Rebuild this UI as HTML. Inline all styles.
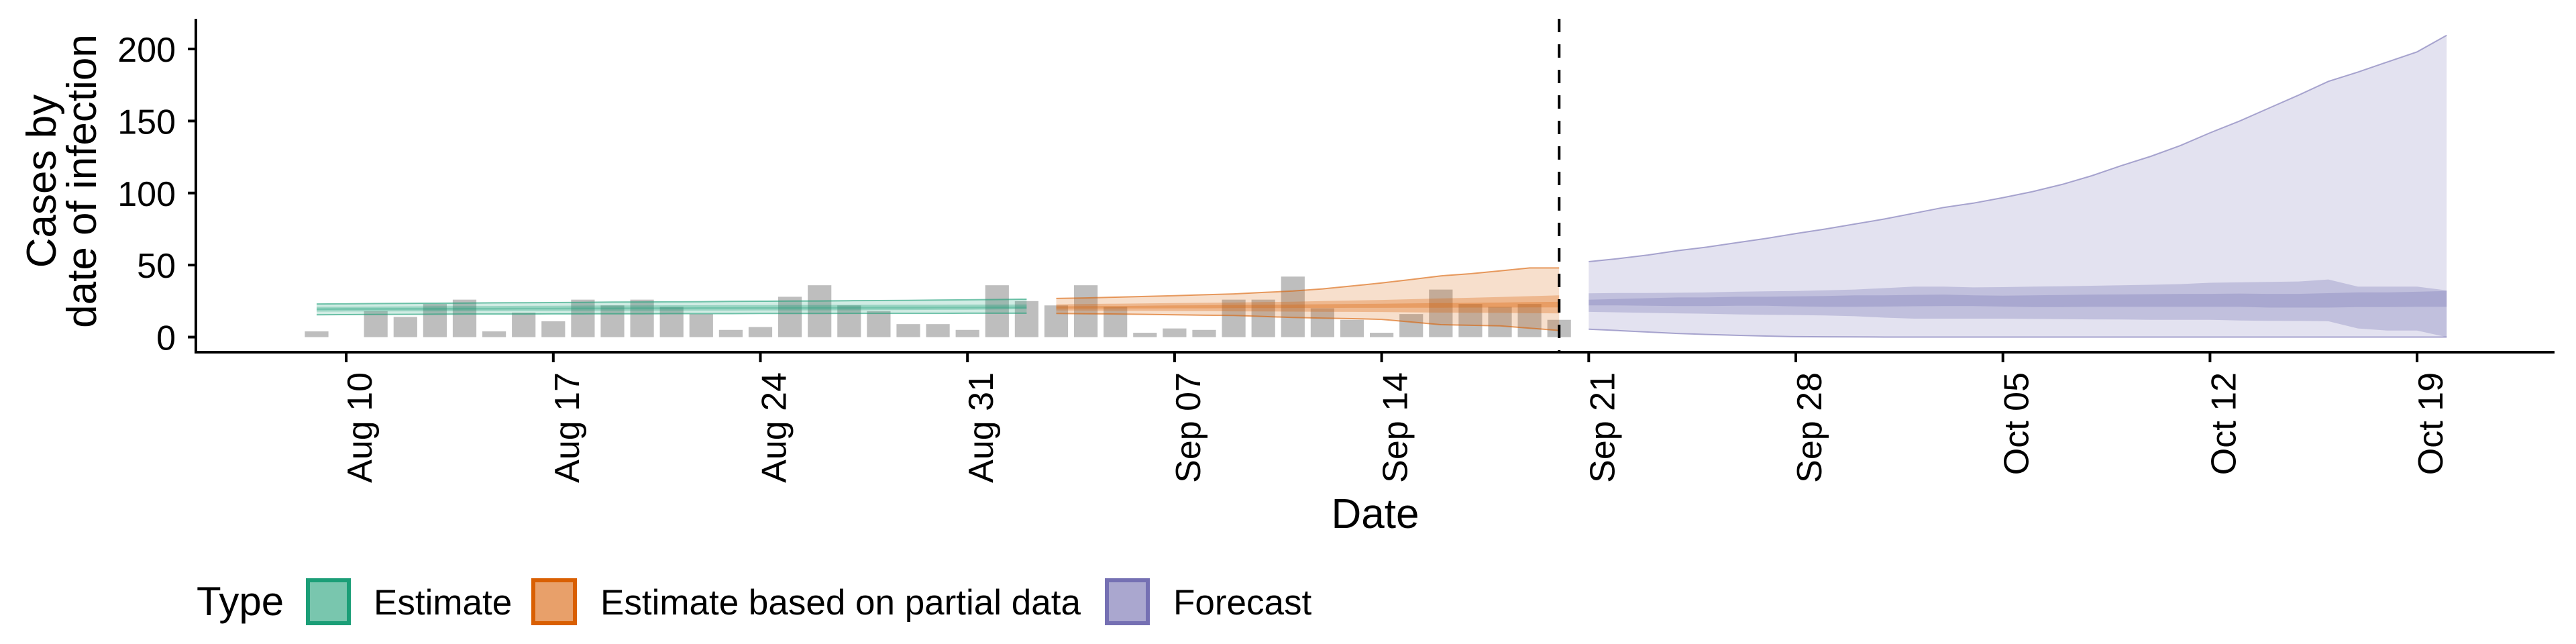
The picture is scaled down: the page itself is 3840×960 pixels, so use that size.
<!DOCTYPE html>
<html><head><meta charset="utf-8"><style>
html,body{margin:0;padding:0;background:#fff;}
svg{display:block;font-family:"Liberation Sans",Arial,sans-serif;}
</style></head><body>
<svg id="chart" width="3840" height="960" viewBox="0 0 3840 960" xmlns="http://www.w3.org/2000/svg">
<g id="bars"></g>
<g id="ribbons"></g>
<g id="axes"></g>
<text transform="translate(83,270) rotate(-90)" text-anchor="middle" font-size="62">Cases by</text>
<text transform="translate(143,270) rotate(-90)" text-anchor="middle" font-size="62">date of infection</text>
<text x="2050" y="787" text-anchor="middle" font-size="62">Date</text>
<g>
<text x="293" y="917" font-size="60">Type</text>
<g>
<rect x="459" y="865" width="61" height="64" fill="#79c6ae" stroke="#1b9e77" stroke-width="6"/>
<text x="557" y="916" font-size="53">Estimate</text></g>
<g>
<rect x="795" y="865" width="62" height="64" fill="#e8a06a" stroke="#d95f02" stroke-width="6"/>
<text x="895" y="916" font-size="53">Estimate based on partial data</text></g>
<g>
<rect x="1650" y="865" width="61" height="64" fill="#aaa7cf" stroke="#7570b3" stroke-width="6"/>
<text x="1749" y="916" font-size="53">Forecast</text></g>
</g>
</svg>
<script>
// ---- data ----
const barStartDay = 0; // Aug 9
const caseCounts = [4,0,18,14,23,26,4,17,11,26,22,26,21,16,5,7,28,36,22,18,9,9,5,36,25,22,36,21,3,6,5,26,26,42,20,12,3,16,33,23,21,23,12];
const estStartDay = 0; // Aug 9 .. Sep 2
const estLo90 = [15.5,15.6,15.7,15.8,15.9,16,16,16,16.1,16.1,16.2,16.2,16.3,16.3,16.3,16.4,16.4,16.4,16.5,16.5,16.5,16.5,16.6,16.6,16.6];
const estHi90 = [23,23.1,23.3,23.4,23.5,23.6,23.8,23.9,24,24.1,24.3,24.4,24.5,24.6,24.8,24.9,25,25.1,25.3,25.4,25.5,25.7,25.9,26.1,26.3];
const estLo50 = [17.7,17.8,17.8,17.9,17.9,18,18,18.1,18.1,18.2,18.2,18.3,18.3,18.4,18.4,18.5,18.5,18.6,18.6,18.7,18.8,18.9,19,19.2,19.4];
const estHi50 = [21,21.1,21.2,21.3,21.4,21.5,21.6,21.7,21.8,21.9,22,22,22.1,22.1,22.2,22.2,22.3,22.3,22.4,22.4,22.5,22.5,22.6,22.6,22.7];
const estLo20 = [18.8,18.9,18.9,19,19,19.1,19.1,19.2,19.2,19.3,19.3,19.4,19.4,19.5,19.5,19.6,19.6,19.7,19.7,19.8,19.8,19.9,19.9,20,20];
const estHi20 = [20,20.1,20.1,20.2,20.2,20.3,20.3,20.4,20.4,20.5,20.5,20.6,20.6,20.7,20.7,20.8,20.8,20.9,20.9,21,21,21.1,21.1,21.2,21.2];
const parStartDay = 25; // Sep 3 .. Sep 20
const parHi90 = [26.8,27.2,27.7,28.2,28.8,29.4,30,31,32,33.5,35.5,37.6,40,42.5,44,46,48,48];
const parLo90 = [16.4,16.2,16,15.8,15.5,15.2,15,14.3,13.6,13.2,12.8,12.3,10.5,8.6,8.2,7.8,6.2,4.6];
const parHi50 = [22.7,23,23.2,23.4,23.6,23.8,24,24.3,24.6,25,25.4,25.8,26.3,26.8,27.3,27.8,28.4,29];
const parLo50 = [18.5,18.4,18.3,18.2,18.1,18,17.9,17.8,17.7,17.6,17.5,17.4,17.2,17,16.9,16.8,16.6,16.5];
const parHi20 = [21.3,21.5,21.6,21.8,22,22.1,22.3,22.4,22.6,22.8,23,23.2,23.4,23.6,23.8,24,24.3,24.5];
const parLo20 = [19.8,19.8,19.9,19.9,20,20,20.1,20.1,20.2,20.2,20.3,20.3,20.4,20.4,20.5,20.5,20.6,20.6];
const fcStartDay = 43; // Sep 21 .. Oct 20
const fcHi90 = [52.4,54.5,57,60,62.5,65.5,68.5,71.9,75,78.5,82,86,90,93,96.8,101,106,112,119,125.5,133,141.8,150,159,168,177.5,184,191,198,209.5];
const fcLo90 = [5.5,4.5,3.5,2.5,1.8,1.2,0.7,0.3,0.2,0.1,0,0,0,0,0,0,0,0,0,0,0,0,0,0,0,0,0,0,0,0];
const fcHi50 = [30.4,30.6,30.6,30.8,31,31.5,31.8,32,32.5,33,34,35,35,34.5,34.7,35,35.3,35.6,36,36.3,36.8,37.7,38,38.3,38.6,40,35,35,35,32.4];
const fcLo50 = [17.5,17.2,16.8,16.5,16.2,15.8,15.5,15.3,15,14.5,13.5,12.8,12.8,12.8,12.8,12.6,12.5,12.3,12.2,12,12,12,11.5,11.3,11.2,11,6,4.5,4.5,0];
const fcHi20 = [26,26.5,27,27.5,27.5,28,28,28.3,28.5,29,29,29.3,29.5,29,28.8,29,29.2,29.5,29.6,29.8,30,30,30.2,30,30,30.5,31,31,31.5,32];
const fcLo20 = [22,22,21.8,21.5,21.5,21.8,21.8,21.3,21,21,21.2,21.4,21.5,21.5,21.2,20.8,20.8,21,21,21,21,21,21,20.5,20.5,20.5,20.8,20.8,21,21];
const yTicks = [0,50,100,150,200];
const xTickLabels = ["Aug 10","Aug 17","Aug 24","Aug 31","Sep 07","Sep 14","Sep 21","Sep 28","Oct 05","Oct 12","Oct 19"];
const xTickDays = [1,8,15,22,29,36,43,50,57,64,71];
const cutoffDay = 42; // Sep 20

// ---- scales ----
const NS = "http://www.w3.org/2000/svg";
function X(d){ return 472 + 44.1*d; }
function Y(v){ return 502.5 - 2.1475*v; }
function mk(tag, attrs, parent){
  const e = document.createElementNS(NS, tag);
  for (const k in attrs) e.setAttribute(k, attrs[k]);
  parent.appendChild(e); return e;
}
const gBars = document.getElementById('bars');
caseCounts.forEach((v,i)=>{
  const x = X(barStartDay+i);
  const r = mk('rect',{x:x-17.6,y:Y(v),width:35.2,height:Y(0)-Y(v),fill:'#bebebe'},gBars);
  
  
});
const gR = document.getElementById('ribbons');
function band(start, lo, hi, color, op, outline, name){
  let pts = [];
  hi.forEach((v,i)=>pts.push(X(start+i).toFixed(1)+','+Y(v).toFixed(1)));
  for(let i=lo.length-1;i>=0;i--) pts.push(X(start+i).toFixed(1)+','+Y(lo[i]).toFixed(1));
  const p = mk('polygon',{points:pts.join(' '),fill:color,'fill-opacity':op},gR);
  
  
  if(outline){
    const up = hi.map((v,i)=>X(start+i).toFixed(1)+','+Y(v).toFixed(1)).join(' ');
    const dn = lo.map((v,i)=>X(start+i).toFixed(1)+','+Y(v).toFixed(1)).join(' ');
    const l1 = mk('polyline',{points:up,fill:'none',stroke:color,'stroke-width':2,'stroke-opacity':0.6},gR);
    
    
    const l2 = mk('polyline',{points:dn,fill:'none',stroke:color,'stroke-width':2,'stroke-opacity':0.6},gR);
    
    
  }
}
band(estStartDay, estLo90, estHi90, '#1b9e77', 0.2, true, 'estimate-90-band');
band(estStartDay, estLo50, estHi50, '#1b9e77', 0.3, false, 'estimate-50-band');
band(estStartDay, estLo20, estHi20, '#1b9e77', 0.3, false, 'estimate-20-band');
band(parStartDay, parLo90, parHi90, '#d95f02', 0.2, true, 'partial-90-band');
band(parStartDay, parLo50, parHi50, '#d95f02', 0.3, false, 'partial-50-band');
band(parStartDay, parLo20, parHi20, '#d95f02', 0.3, false, 'partial-20-band');
band(fcStartDay, fcLo90, fcHi90, '#7570b3', 0.2, true, 'forecast-90-band');
band(fcStartDay, fcLo50, fcHi50, '#7570b3', 0.3, false, 'forecast-50-band');
band(fcStartDay, fcLo20, fcHi20, '#7570b3', 0.3, false, 'forecast-20-band');

const gA = document.getElementById('axes');
const cut = mk('line',{x1:X(cutoffDay),x2:X(cutoffDay),y1:28,y2:525,stroke:'#000','stroke-width':4,'stroke-dasharray':'20 18'},gA);


const ya = mk('line',{x1:292,x2:292,y1:28,y2:527,stroke:'#000','stroke-width':4},gA);


const xa = mk('line',{x1:290,x2:3808,y1:525,y2:525,stroke:'#000','stroke-width':4},gA);


yTicks.forEach(v=>{
  const t = mk('line',{x1:280,x2:292,y1:Y(v),y2:Y(v),stroke:'#000','stroke-width':4},gA);
  
  
  const l = mk('text',{x:262,y:Y(v)+19,'text-anchor':'end','font-size':52},gA);
  l.textContent = v;
  
  
});
xTickDays.forEach((d,i)=>{
  const x = X(d);
  const t = mk('line',{x1:x,x2:x,y1:525,y2:540,stroke:'#000','stroke-width':4},gA);
  
  
  const l = mk('text',{transform:'translate('+(x+38)+',555) rotate(-90)','text-anchor':'end','font-size':52},gA);
  l.textContent = xTickLabels[i];
  
  
});
</script>
</body></html>
